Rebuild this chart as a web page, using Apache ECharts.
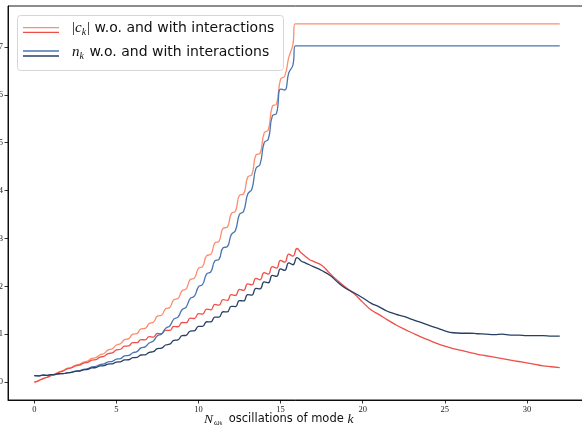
<!DOCTYPE html>
<html><head><meta charset="utf-8">
<script src="https://cdn.jsdelivr.net/npm/echarts@6/dist/echarts.min.js"></script>
<style>html,body{margin:0;padding:0;background:#fff}#c{width:582px;height:429px}</style>
</head><body><div id="c"></div>
<script>
// sample positions (mode oscillations)
const xRise = [0,0.25,0.5,0.75,1,1.25,1.5,1.75,2,2.25,2.5,2.75,3,3.25,3.5,3.75,4,4.25,4.5,4.75,5,5.25,5.5,5.75,6,6.25,6.5,6.75,7,7.25,7.5,7.75,8,8.25,8.5,8.75,9,9.25,9.5,9.75,10,10.25,10.5,10.75,11,11.25,11.5,11.75,12,12.25,12.5,12.75,13,13.25,13.5,13.75,14,14.25,14.5,14.75,15,15.25,15.5,15.75];
const xAfter = [16,16.25,16.5,16.75,17,17.5,18,18.5,19,19.5,20,20.5,21,21.5,22,22.5,23,23.5,24,24.5,25,25.5,26,26.5,27,27.5,28,28.5,29,29.5,30,30.5,31,31.5,32];
const xCapC = [15.875,32];
const xCapN = [15.9,32];

// |c_k| without interactions
const cNoIntRise = [0,0.026,0.069,0.096,0.134,0.166,0.21,0.24,0.286,0.304,0.352,0.372,0.418,0.441,0.495,0.51,0.571,0.598,0.673,0.696,0.775,0.799,0.887,0.907,1.0,1.014,1.112,1.122,1.224,1.249,1.377,1.397,1.53,1.558,1.719,1.744,1.907,1.945,2.142,2.171,2.377,2.411,2.642,2.666,2.907,2.94,3.213,3.234,3.519,3.567,3.902,3.93,4.284,4.332,4.743,4.777,5.202,5.267,5.763,5.806,6.324,6.39,6.78,7.05];
const cNoIntCap = [7.48,7.48];
// |c_k| with interactions
const cIntRise = [0,0.026,0.069,0.096,0.134,0.161,0.204,0.23,0.275,0.294,0.337,0.353,0.398,0.412,0.459,0.47,0.52,0.539,0.597,0.608,0.673,0.686,0.75,0.755,0.826,0.823,0.887,0.882,0.949,0.941,1.015,1.009,1.081,1.078,1.163,1.156,1.244,1.24,1.336,1.328,1.428,1.421,1.525,1.509,1.622,1.607,1.724,1.705,1.826,1.808,1.938,1.916,2.05,2.029,2.168,2.136,2.285,2.254,2.412,2.381,2.54,2.504,2.672,2.631];
const cIntAfter = [2.79,2.70,2.63,2.56,2.52,2.44,2.27,2.11,1.97,1.84,1.67,1.51,1.41,1.30,1.20,1.11,1.03,0.95,0.88,0.81,0.75,0.70,0.66,0.62,0.58,0.55,0.52,0.49,0.46,0.43,0.40,0.37,0.34,0.32,0.30];
// n_k without interactions
const nNoIntRise = [0.134,0.131,0.144,0.141,0.154,0.156,0.174,0.176,0.194,0.203,0.23,0.237,0.265,0.279,0.316,0.328,0.367,0.379,0.423,0.433,0.479,0.49,0.546,0.556,0.612,0.637,0.714,0.735,0.816,0.858,0.969,1.005,1.122,1.171,1.316,1.357,1.51,1.568,1.749,1.793,1.989,2.038,2.259,2.303,2.53,2.563,2.805,2.827,3.08,3.165,3.504,3.567,3.927,4.028,4.463,4.547,4.998,5.072,5.559,5.611,6.12,6.10,6.46,6.62];
const nNoIntCap = [7.02,7.02];
// n_k with interactions
const nIntRise = [0.134,0.131,0.144,0.141,0.154,0.156,0.174,0.176,0.194,0.201,0.224,0.23,0.255,0.265,0.296,0.304,0.337,0.343,0.377,0.382,0.418,0.423,0.464,0.467,0.51,0.516,0.566,0.57,0.622,0.634,0.699,0.708,0.775,0.791,0.872,0.884,0.969,0.977,1.066,1.07,1.163,1.163,1.26,1.256,1.357,1.357,1.469,1.465,1.581,1.578,1.703,1.695,1.826,1.818,1.958,1.945,2.091,2.075,2.229,2.207,2.366,2.332,2.489,2.45];
const nIntAfter = [2.60,2.53,2.49,2.45,2.41,2.33,2.23,2.08,1.95,1.86,1.76,1.65,1.57,1.48,1.42,1.37,1.31,1.25,1.19,1.13,1.07,1.03,1.02,1.02,1.01,1.00,0.99,1.00,0.98,0.98,0.97,0.97,0.97,0.96,0.96];

const xTicks = [0,5,10,15,20,25,30];
const yTicks = [0,1,2,3,4,5,6,7];

function pairs(xs, ys){ return xs.map((x,i)=>[x, ys[i]]); }

const colLight = '#fc8d6e', colRed = '#ef4f48', colSteel = '#4a75b0', colNavy = '#283f63';
const serif = 'Liberation Serif';
const sans = 'DejaVu Sans';

const chart = echarts.init(document.getElementById('c'), null, {renderer:'canvas'});
const lineStyle = (c)=>({color:c, width:1.3});
const mk = (name, data, c) => ({type:'line', name, data, showSymbol:false, smooth:0.5, lineStyle:lineStyle(c), itemStyle:{color:c}, animation:false, z:2});

chart.setOption({
  animation:false,
  grid:{left:8, right:-4, top:6, bottom:29, show:true, borderColor:'#000', borderWidth:0.9, containLabel:false, outerBoundsMode:'none'},
  xAxis:{type:'value', min:-1.6, max:33.6,
    axisLine:{show:true, onZero:false, lineStyle:{color:'#000', width:0.9}},
    axisTick:{show:true, length:3.5, lineStyle:{color:'#000', width:0.8}, customValues:xTicks},
    axisLabel:{customValues:xTicks, fontFamily:serif, fontSize:8.5, color:'#222', margin:5},
    splitLine:{show:false}
  },
  yAxis:{type:'value', min:-0.374, max:7.854,
    axisLine:{show:true, onZero:false, lineStyle:{color:'#000', width:0.9}},
    axisTick:{show:true, length:3.5, lineStyle:{color:'#000', width:0.8}, customValues:yTicks},
    axisLabel:{customValues:yTicks, fontFamily:serif, fontSize:8.5, color:'#222', margin:5},
    splitLine:{show:false}
  },
  series:[
    mk('c0', pairs(xRise, cNoIntRise).concat(pairs(xCapC, cNoIntCap)), colLight),
    mk('c1', pairs(xRise, cIntRise).concat(pairs(xAfter, cIntAfter)), colRed),
    mk('n0', pairs(xRise, nNoIntRise).concat(pairs(xCapN, nNoIntCap)), colSteel),
    mk('n1', pairs(xRise, nIntRise).concat(pairs(xAfter, nIntAfter)), colNavy)
  ],
  graphic:[
    {type:'text', z:11, left:204, top:412, style:{
      text:'{it|N}{sub|ω}{sub2|k}{txt| oscillations of mode }{it|k}',
      rich:{
        it:{fontFamily:serif, fontStyle:'italic', fontSize:13.5, fill:'#111'},
        sub:{fontFamily:serif, fontStyle:'italic', fontSize:8, fill:'#111', padding:[7,0,0,1]},
        sub2:{fontFamily:serif, fontStyle:'italic', fontSize:5.5, fill:'#111', padding:[10,3,0,0]},
        txt:{fontFamily:sans, fontSize:11.5, fill:'#111'}
      }}},
    {type:'rect', left:17, top:15, z:10, shape:{width:266, height:55, r:3}, style:{fill:'rgba(255,255,255,0.85)', stroke:'#d6d6d6', lineWidth:1}},
    {type:'line', z:11, shape:{x1:23,y1:27.7,x2:59,y2:27.7}, style:{stroke:colLight, lineWidth:1.3}},
    {type:'line', z:11, shape:{x1:23,y1:32.3,x2:59,y2:32.3}, style:{stroke:colRed, lineWidth:1.3}},
    {type:'line', z:11, shape:{x1:23,y1:51,x2:59,y2:51}, style:{stroke:colSteel, lineWidth:1.3}},
    {type:'line', z:11, shape:{x1:23,y1:56,x2:59,y2:56}, style:{stroke:colNavy, lineWidth:1.3}},
    {type:'text', z:11, left:72, top:21, style:{
      text:'{m||}{it|c}{sub|k}{m||}{t| w.o. and with interactions}',
      rich:{
        m:{fontFamily:serif, fontSize:15, fill:'#111'},
        it:{fontFamily:serif, fontStyle:'italic', fontSize:15, fill:'#111'},
        sub:{fontFamily:serif, fontStyle:'italic', fontSize:10, fill:'#111', padding:[7,1,0,0]},
        t:{fontFamily:sans, fontSize:14, fill:'#111'}
      }}},
    {type:'text', z:11, left:72, top:45, style:{
      text:'{it|n}{sub|k}{t| w.o. and with interactions}',
      rich:{
        it:{fontFamily:serif, fontStyle:'italic', fontSize:15, fill:'#111'},
        sub:{fontFamily:serif, fontStyle:'italic', fontSize:10, fill:'#111', padding:[7,1,0,0]},
        t:{fontFamily:sans, fontSize:14, fill:'#111'}
      }}}
  ]
});
</script></body></html>
